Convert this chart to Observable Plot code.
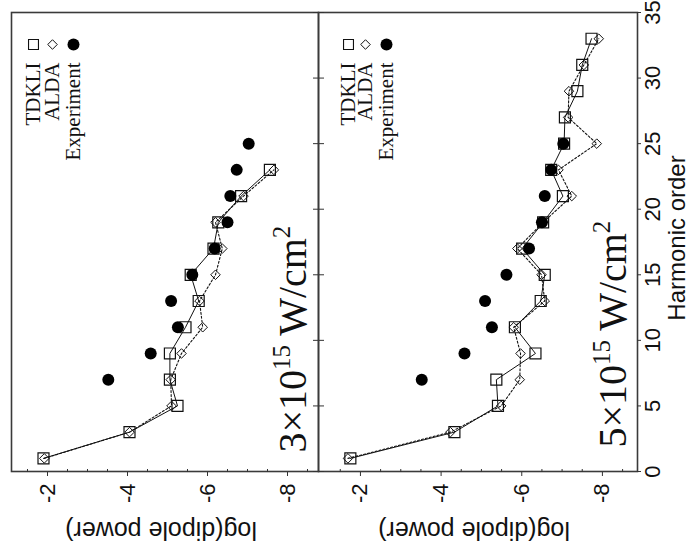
<!DOCTYPE html>
<html>
<head>
<meta charset="utf-8">
<script src="https://cdn.jsdelivr.net/npm/d3@7"></script>
<script src="https://cdn.jsdelivr.net/npm/@observablehq/plot@0.6"></script>
<style>
  html, body { margin: 0; padding: 0; background: #fff; overflow: hidden; }
  #stage { position: absolute; left: 0; top: 0; width: 688px; height: 551px; overflow: hidden; background: #fff; }
  /* the chart is drawn upright (551 x 688) and then turned a quarter turn counter-clockwise */
  #wrap { position: absolute; left: 0; top: 0; width: 551px; height: 688px;
          transform-origin: 0 0; transform: translate(0px, 551px) rotate(-90deg); }
  #wrap svg { display: block; }
</style>
</head>
<body>
<div id="stage"><div id="wrap"></div></div>
<script>
// ---------------- data ----------------
const seriesNames = ["TDKLI", "ALDA", "Experiment"];
const panelLabels = ["3×10^15 W/cm^2", "5×10^15 W/cm^2"];
const xAxisLabel = "Harmonic order";
const yAxisLabel = "log(dipole power)";

// 3×10^15 W/cm^2
const harmonics3 = [1, 3, 5, 7, 9, 11, 13, 15, 17, 19, 21, 23];
const tdkli3 = [-1.90, -4.05, -5.25, -5.06, -5.06, -5.45, -5.78, -5.58, -6.15, -6.27, -6.84, -7.56];
const alda3  = [-1.92, -4.05, -5.10, -5.08, -5.35, -5.88, -5.80, -6.20, -6.37, -6.20, -6.90, -7.66];

// 5×10^15 W/cm^2
const harmonics5 = [1, 3, 5, 7, 9, 11, 13, 15, 17, 19, 21, 23, 25, 27, 29, 31, 33];
const tdkli5 = [-1.75, -4.33, -5.41, -5.37, -6.34, -5.83, -6.47, -6.57, -6.01, -6.53, -7.02, -6.73, -7.05, -7.07, -7.38, -7.50, -7.73];
const alda5  = [-1.69, -4.23, -5.49, -5.95, -5.97, -5.80, -6.57, -6.49, -5.89, -6.53, -7.24, -6.91, -7.86, -7.15, -7.17, -7.54, -7.91];

// experiment (same in both panels)
const harmonicsExp = [7, 9, 11, 13, 15, 17, 19, 21, 23, 25];
const experiment = [-3.52, -4.58, -5.26, -5.09, -5.62, -6.18, -6.50, -6.57, -6.73, -7.03];

// ticks
const powerTicks = [-2, -4, -6, -8];
const powerMinorTicks = [-1.5, -2.5, -3, -3.5, -4.5, -5, -5.5, -6.5, -7, -7.5, -8.5];
const harmonicTicks = [0, 5, 10, 15, 20, 25, 30, 35];

// ---------------- drawing ----------------
const SANS = "'Liberation Sans', Arial, Helvetica, sans-serif";
const SERIF = "'Liberation Serif', 'Times New Roman', serif";
const INK = "#111";
const LABEL_SIZE = 40;

function rows(hs, vs) { return hs.map((h, i) => ({h, v: vs[i]})); }

function panel({harmonics, tdkli, alda, label, height, marginTop, marginBottom, yDomain,
                legendDy, legendDx, labelDx, labelDy, bottomAxis}) {
  const T = rows(harmonics, tdkli);
  const A = rows(harmonics, alda);
  const E = rows(harmonicsExp, experiment);
  const marks = [
    Plot.line(T, {x: "h", y: "v", stroke: INK, strokeWidth: 1}),
    Plot.line(A, {x: "h", y: "v", stroke: INK, strokeWidth: 1.1, strokeDasharray: "2,2"}),
    Plot.dot(T, {x: "h", y: "v", symbol: "square", r: 6.2, stroke: INK, strokeWidth: 1.2, fill: "none"}),
    Plot.dot(A, {x: "h", y: "v", symbol: "diamond2", r: 4.3, stroke: INK, strokeWidth: 1, fill: "none"}),
    Plot.dot(E, {x: "h", y: "v", r: 6, fill: "#000", stroke: "none"}),
    Plot.frame({stroke: "#3a3a3a", strokeWidth: 1.6}),
    // power axis (left in upright chart)
    Plot.axisY(powerTicks, {anchor: "left", tickSize: 4, tickPadding: 8, tickFormat: d => String(d),
                            fontSize: 22, fontFamily: SANS, label: null, stroke: "#333"}),
    Plot.axisY(powerMinorTicks, {anchor: "left", tickSize: -3, text: null, label: null, stroke: "#333"}),
    Plot.text([yAxisLabel], {frameAnchor: "left", dx: -58, dy: -4, rotate: -90, textAnchor: "middle", lineAnchor: "middle",
                             fontSize: 25, fontFamily: SANS, fill: INK}),
    // legend
    ...seriesNames.map((name, i) => Plot.text([name], {
      frameAnchor: "top-right", dx: legendDx - 18, dy: legendDy[i], textAnchor: "end", lineAnchor: "middle",
      fontSize: 21, fontFamily: SERIF, fill: INK})),
    Plot.dot([0], {frameAnchor: "top-right", dx: legendDx, dy: legendDy[0], symbol: "square", r: 5.6, stroke: INK, strokeWidth: 1.1, fill: "none"}),
    Plot.dot([0], {frameAnchor: "top-right", dx: legendDx, dy: legendDy[1], symbol: "diamond2", r: 4.3, stroke: INK, strokeWidth: 1, fill: "none"}),
    Plot.dot([0], {frameAnchor: "top-right", dx: legendDx, dy: legendDy[2], r: 6, fill: "#000", stroke: "none"}),
    // intensity label
    Plot.text([label], {frameAnchor: "bottom-left", dx: labelDx, dy: labelDy, textAnchor: "start", lineAnchor: "bottom",
                        fontSize: LABEL_SIZE, fontFamily: SERIF, fill: INK})
  ];
  if (bottomAxis) {
    marks.push(
      Plot.axisX(harmonicTicks, {anchor: "top", tickSize: -5, text: null, label: null, stroke: "#333"}),
      Plot.axisX(harmonicTicks, {anchor: "bottom", tickSize: 4, tickPadding: 3, fontSize: 22, fontFamily: SANS, label: null, stroke: "#333"}),
      Plot.text([xAxisLabel], {frameAnchor: "bottom", dx: 4, dy: 47, lineAnchor: "bottom", textAnchor: "middle",
                               fontSize: 24, fontFamily: SANS, fill: INK})
    );
  } else {
    marks.push(Plot.axisX(harmonicTicks, {anchor: "bottom", tickSize: -5, text: null, label: null, stroke: "#333"}));
  }
  const svg = Plot.plot({
    width: 551, height,
    marginLeft: 79, marginRight: 13, marginTop, marginBottom,
    x: {domain: [0, 35], axis: null},
    y: {domain: yDomain, axis: null},
    style: {background: "white", color: INK, overflow: "visible", fontFamily: SANS},
    marks
  });
  supify(svg, LABEL_SIZE);
  return svg;
}

// turn "a^bc d" into text with raised tspans
function supify(svg, size) {
  d3.select(svg).selectAll("text")
    .filter(function () { return this.textContent.includes("^"); })
    .each(function () {
      const parts = this.textContent.split(/\^(\w+)/);
      this.textContent = "";
      const sel = d3.select(this);
      let shift = 0;
      parts.forEach((p, i) => {
        if (p === "") return;
        const t = sel.append("tspan").text(p);
        if (i % 2 === 1) {
          t.attr("font-size", size * 0.62).attr("dy", -size * 0.4);
          shift = size * 0.4;
        } else if (shift) {
          t.attr("dy", shift);
          shift = 0;
        }
      });
    });
}

const wrap = document.getElementById("wrap");
wrap.append(panel({
  harmonics: harmonics3, tdkli: tdkli3, alda: alda3, label: panelLabels[0],
  height: 318, marginTop: 11, marginBottom: 0, yDomain: [-8.775, -1.1],
  legendDy: [22, 41, 62], legendDx: -32, labelDx: 19, labelDy: -13, bottomAxis: false
}));
wrap.append(panel({
  harmonics: harmonics5, tdkli: tdkli5, alda: alda5, label: panelLabels[1],
  height: 370, marginTop: 0, marginBottom: 51, yDomain: [-8.87, -0.96],
  legendDy: [30, 47, 68], legendDx: -32, labelDx: 24, labelDy: -12, bottomAxis: true
}));
</script>
</body>
</html>
